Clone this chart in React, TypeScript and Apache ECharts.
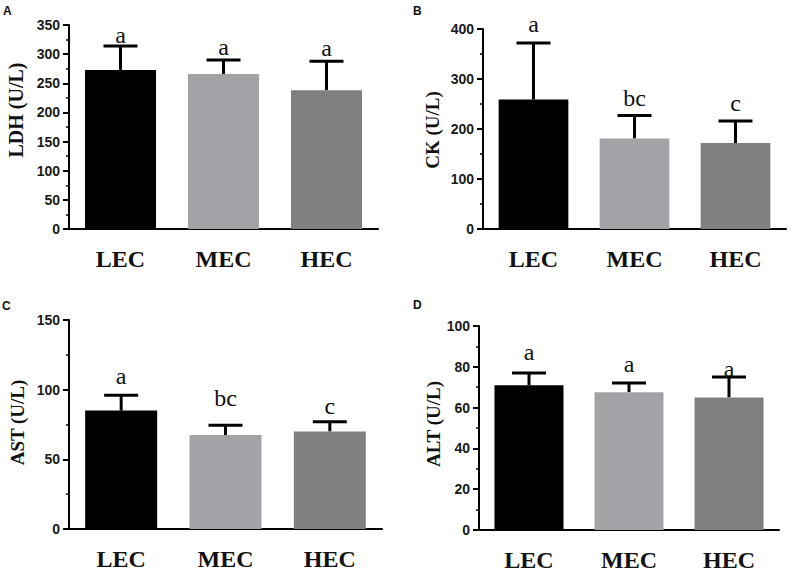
import React, { useEffect, useRef } from "react";
import * as echarts from "echarts";

const categories = ["LEC", "MEC", "HEC"];
const barColors = ["#000000", "#a3a3a7", "#808080"];

const ldhMean = [273, 266, 238];
const ldhSd = [41, 24, 50];
const ldhLetters = ["a", "a", "a"];
const ldhLetterAt = [332, 313, 310];

const ckMean = [259, 181, 172];
const ckSd = [113, 46, 44];
const ckLetters = ["a", "bc", "c"];
const ckLetterAt = [410, 263, 252];

const astMean = [85, 67.5, 70];
const astSd = [11, 7, 7];
const astLetters = ["a", "bc", "c"];
const astLetterAt = [109.5, 93.7, 88.3];

const altMean = [71, 67.5, 65];
const altSd = [6, 4.5, 10];
const altLetters = ["a", "a", "a"];
const altLetterAt = [87.5, 81.4, 78.9];

const yMax = [350, 400, 150, 100];
const yStep = [50, 100, 50, 20];
const yNames = ["LDH (U/L)", "CK (U/L)", "AST (U/L)", "ALT (U/L)"];
const panelTags = ["A", "B", "C", "D"];

const panels = [
  { mean: ldhMean, sd: ldhSd, letters: ldhLetters, letterAt: ldhLetterAt },
  { mean: ckMean, sd: ckSd, letters: ckLetters, letterAt: ckLetterAt },
  { mean: astMean, sd: astSd, letters: astLetters, letterAt: astLetterAt },
  { mean: altMean, sd: altSd, letters: altLetters, letterAt: altLetterAt },
];

// layout (px)
const grids = [
  { left: 69, top: 25, width: 309, height: 204, nameGap: 43, namePad: 34, nameSize: 20, tag: [3, 5] },
  { left: 483, top: 29, width: 303, height: 200, nameGap: 41, namePad: -2, nameSize: 19, tag: [413, 5] },
  { left: 69, top: 320, width: 313, height: 209, nameGap: 42, namePad: 4, nameSize: 19, tag: [2, 300] },
  { left: 479, top: 326, width: 300, height: 204, nameGap: 34, namePad: 8, nameSize: 19, tag: [413, 299] },
];

export default function App() {
  const ref = useRef<HTMLDivElement>(null);
  useEffect(() => {
    if (!ref.current) return;
    const chart = echarts.init(ref.current, null, { renderer: "svg" });
    const grid: any[] = [];
    const xAxis: any[] = [];
    const yAxis: any[] = [];
    const series: any[] = [];
    const graphic: any[] = [];
    panels.forEach((p, k) => {
      const g = grids[k];
      grid.push({ left: g.left, top: g.top, width: g.width, height: g.height, containLabel: false });
      xAxis.push({
        type: "category",
        gridIndex: k,
        data: categories,
        axisLine: { lineStyle: { color: "#000", width: 2 } },
        axisTick: { alignWithLabel: true, length: 5, lineStyle: { color: "#000", width: 2 } },
        axisLabel: {
          margin: 18,
          color: "#111",
          fontFamily: "Liberation Serif",
          fontWeight: "bold",
          fontSize: 24,
        },
        splitLine: { show: false },
      });
      yAxis.push({
        type: "value",
        gridIndex: k,
        min: 0,
        max: yMax[k],
        interval: yStep[k],
        name: yNames[k],
        nameLocation: "middle",
        nameRotate: 90,
        nameGap: g.nameGap,
        nameTextStyle: {
          fontFamily: "Liberation Serif",
          fontWeight: "bold",
          fontSize: g.nameSize,
          color: "#111",
          padding: [0, 0, 0, g.namePad],
        },
        axisLine: { show: true, lineStyle: { color: "#000", width: 2 } },
        axisTick: { show: true, length: 6, lineStyle: { color: "#000", width: 2 } },
        minorTick: { show: true, splitNumber: 2, length: 3, lineStyle: { color: "#000", width: 1.5 } },
        axisLabel: {
          margin: 9,
          color: "#1a1a1a",
          fontFamily: "Liberation Sans",
          fontWeight: "bold",
          fontSize: 14,
        },
        splitLine: { show: false },
      });
      series.push({
        type: "bar",
        xAxisIndex: k,
        yAxisIndex: k,
        barWidth: "69%",
        data: p.mean.map((v, i) => ({ value: v, itemStyle: { color: barColors[i] } })),
      });
      series.push({
        type: "custom",
        xAxisIndex: k,
        yAxisIndex: k,
        clip: false,
        data: p.mean.map((v, i) => [i, v, p.sd[i]]),
        encode: { x: 0, y: 1 },
        renderItem: (params: any, api: any) => {
          const x = api.value(0);
          const m = api.value(1);
          const s = api.value(2);
          const b = api.coord([x, m]);
          const t = api.coord([x, m + s]);
          return {
            type: "group",
            children: [
              { type: "line", shape: { x1: b[0], y1: b[1], x2: t[0], y2: t[1] }, style: { stroke: "#000", lineWidth: 3 } },
              { type: "line", shape: { x1: t[0] - 17, y1: t[1], x2: t[0] + 17, y2: t[1] }, style: { stroke: "#000", lineWidth: 3 } },
            ],
          };
        },
      });
      series.push({
        type: "custom",
        xAxisIndex: k,
        yAxisIndex: k,
        clip: false,
        data: p.letterAt.map((v, i) => [i, v]),
        encode: { x: 0, y: 1 },
        renderItem: (params: any, api: any) => {
          const idx = params.dataIndex;
          const c = api.coord([api.value(0), api.value(1)]);
          return {
            type: "text",
            x: c[0],
            y: c[1],
            style: {
              text: p.letters[idx],
              fill: "#111",
              fontFamily: "Liberation Serif",
              fontSize: 24,
              align: "center",
              verticalAlign: "middle",
            },
          };
        },
      });
      graphic.push({
        type: "text",
        left: g.tag[0],
        top: g.tag[1],
        style: {
          text: panelTags[k],
          fill: "#111",
          fontFamily: "Liberation Sans",
          fontWeight: "bold",
          fontSize: 12,
        },
      });
    });
    chart.setOption({
      animation: false,
      backgroundColor: "#ffffff",
      grid,
      xAxis,
      yAxis,
      series,
      graphic,
    });
    return () => chart.dispose();
  }, []);
  return (
    <div
      ref={ref}
      style={{ position: "fixed", left: 0, top: 0, width: 793, height: 576, background: "#fff" }}
    />
  );
}
